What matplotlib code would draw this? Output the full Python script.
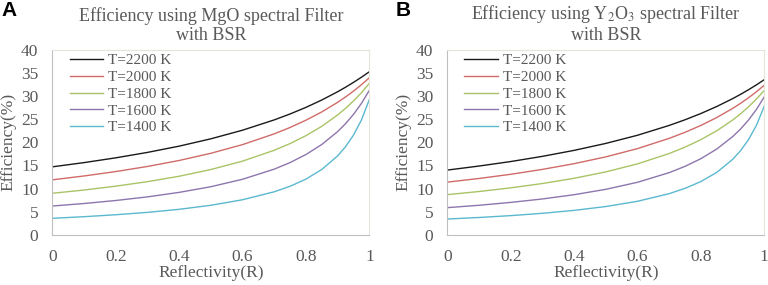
import matplotlib
matplotlib.use("Agg")
import matplotlib.pyplot as plt

plt.rcParams['font.family'] = ['Liberation Serif', 'DejaVu Serif']
plt.rcParams['mathtext.fontset'] = 'stix'

# Reflectivity values (x axis)
refl = [0, 0.1, 0.2, 0.3, 0.4, 0.5, 0.6, 0.7, 0.75, 0.8, 0.85, 0.9, 0.925, 0.95, 0.975, 1.0]

labels = ["T=2200 K", "T=2000 K", "T=1800 K", "T=1600 K", "T=1400 K"]
colors = ["#1a1a1a", "#d06b69", "#a9c466", "#8d76ad", "#5bb8cf"]

# Panel A - MgO filter (efficiency %)
mgo_2200 = [14.70, 15.61, 16.64, 17.81, 19.16, 20.74, 22.60, 24.82, 26.10, 27.52, 29.11, 30.89, 31.87, 32.91, 34.02, 35.20]
mgo_2000 = [11.90, 12.73, 13.68, 14.78, 16.07, 17.62, 19.49, 21.81, 23.19, 24.75, 26.54, 28.61, 29.77, 31.03, 32.40, 33.90]
mgo_1800 = [9.00, 9.70, 10.53, 11.50, 12.67, 14.12, 15.93, 18.27, 19.72, 21.42, 23.44, 25.89, 27.31, 28.90, 30.68, 32.70]
mgo_1600 = [6.25, 6.79, 7.44, 8.22, 9.19, 10.41, 12.02, 14.20, 15.62, 17.35, 19.52, 22.30, 24.01, 26.01, 28.37, 31.20]
mgo_1400 = [3.60, 3.95, 4.37, 4.88, 5.54, 6.41, 7.60, 9.32, 10.51, 12.05, 14.13, 17.06, 19.04, 21.54, 24.79, 29.20]

# Panel B - Y2O3 filter (efficiency %)
y2o3_2200 = [14.00, 14.87, 15.84, 16.96, 18.25, 19.75, 21.51, 23.63, 24.85, 26.20, 27.71, 29.40, 30.33, 31.32, 32.37, 33.50]
y2o3_2000 = [11.40, 12.19, 13.09, 14.15, 15.38, 16.85, 18.63, 20.84, 22.15, 23.63, 25.33, 27.29, 28.39, 29.58, 30.88, 32.30]
y2o3_1800 = [8.70, 9.38, 10.17, 11.10, 12.23, 13.61, 15.34, 17.57, 18.95, 20.57, 22.48, 24.79, 26.13, 27.63, 29.31, 31.20]
y2o3_1600 = [5.90, 6.41, 7.03, 7.77, 8.69, 9.85, 11.37, 13.45, 14.81, 16.46, 18.54, 21.21, 22.85, 24.78, 27.06, 29.80]
y2o3_1400 = [3.45, 3.78, 4.18, 4.68, 5.31, 6.14, 7.27, 8.92, 10.06, 11.53, 13.50, 16.30, 18.18, 20.55, 23.63, 27.80]

mgo = [mgo_2200, mgo_2000, mgo_1800, mgo_1600, mgo_1400]
y2o3 = [y2o3_2200, y2o3_2000, y2o3_1800, y2o3_1600, y2o3_1400]

txt = "#595959"

fig = plt.figure(figsize=(7.68, 2.85), dpi=100)
ax1 = fig.add_axes([0.0681, 0.1754, 0.4128, 0.6509])
ax2 = fig.add_axes([0.5824, 0.1754, 0.4128, 0.6509])


def draw(ax, series, title, letter, lx):
    for s, c, lab in zip(series, colors, labels):
        ax.plot(refl, s, color=c, lw=1.0, label=lab)
    ax.set_xlim(0, 1)
    ax.set_ylim(0, 40)
    ax.set_yticks(range(0, 41, 5))
    ax.set_xticks([0, 0.2, 0.4, 0.6, 0.8, 1])
    ax.set_xticklabels(["0", "0.2", "0.4", "0.6", "0.8", "1"])
    ax.tick_params(length=0, labelsize=12.5, labelcolor=txt)
    ax.tick_params(axis='x', pad=10)
    ax.tick_params(axis='y', pad=10)
    for side in ["left", "bottom"]:
        ax.spines[side].set_color("#bfbfbf")
    for side in ["top", "right"]:
        ax.spines[side].set_color("#e6e3da")
    ax.set_xlabel("Reflectivity(R)", fontsize=12.5, color=txt, labelpad=0)
    ax.set_ylabel("Efficiency(%)", fontsize=12.5, color=txt, labelpad=3)
    ax.set_title(title, fontsize=13, color=txt, pad=7, linespacing=1.15)
    leg = ax.legend(loc="upper left", frameon=False, fontsize=11,
                    handlelength=2.2, handletextpad=0.3, labelspacing=0.2,
                    borderaxespad=0.0, bbox_to_anchor=(0.035, 1.01))
    for t in leg.get_texts():
        t.set_color(txt)
    fig.text(lx, 0.962, letter, fontsize=15, fontweight="bold",
             family="Liberation Sans", va="center", ha="left")


draw(ax1, mgo, "Efficiency using MgO spectral Filter\nwith BSR", "A", 0.002)
draw(ax2, y2o3, "Efficiency using Y$_2$O$_3$ spectral Filter\nwith BSR", "B", 0.515)

fig.savefig("out.png", dpi=100)
